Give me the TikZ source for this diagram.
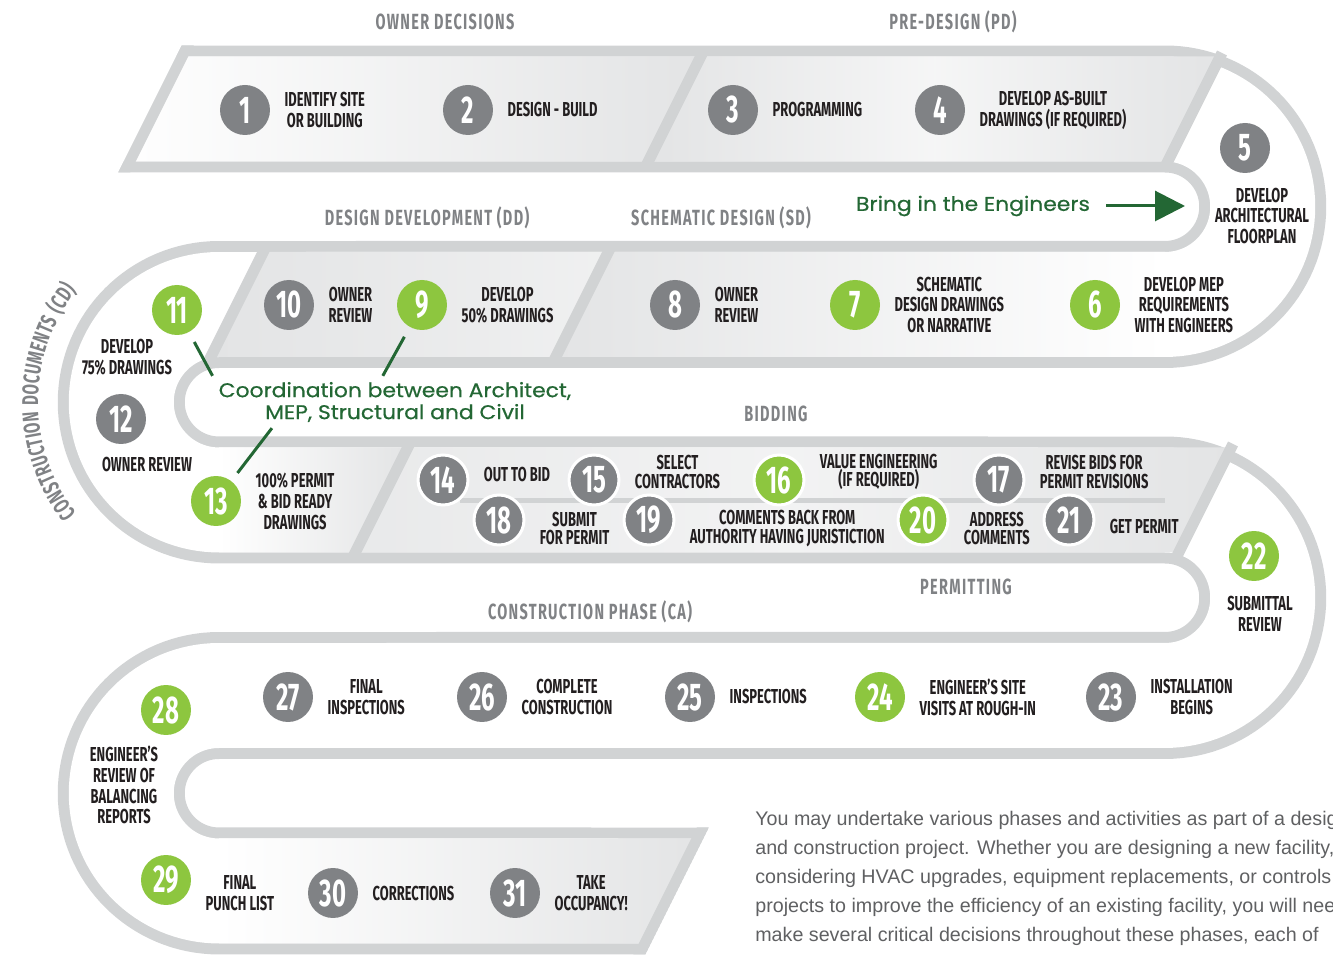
\documentclass[tikz,border=0pt]{standalone}
\usepackage{fontspec}
\setmainfont{Fira Sans}
\newfontfamily\stepfont[FakeStretch=0.64]{Fira Sans}
\newfontfamily\numfont[FakeStretch=0.62]{Fira Sans}
\newfontfamily\phasefont[FakeStretch=0.66,LetterSpace=6]{Fira Sans}
\newfontfamily\notefont[FakeStretch=1.1,FakeBold=0.6]{Poppins}
\newfontfamily\bodyfont{Liberation Sans}
\usetikzlibrary{positioning}
\usetikzlibrary{arrows.meta}
\usetikzlibrary{decorations.text}

\definecolor{trackgrey}{HTML}{D1D3D4}
\definecolor{fillgrey}{HTML}{E3E4E5}
\definecolor{stepgrey}{HTML}{808285}
\definecolor{stepgreen}{HTML}{8DC63F}
\definecolor{phasegrey}{HTML}{808285}
\definecolor{labelblack}{HTML}{231F20}
\definecolor{notegreen}{HTML}{236734}
\definecolor{bodygrey}{HTML}{5F6062}

\begin{document}
\begin{tikzpicture}[x=0.02cm, y=-0.02cm, node distance=0.28cm,
        greystep/.style={circle, fill=stepgrey, minimum size=1cm, inner sep=0, text=white,
            font=\numfont\bfseries\fontsize{22}{22}\selectfont},
        greenstep/.style={greystep, fill=stepgreen},
        ringed/.style={draw=white, line width=0.06cm},
        steptext/.style={align=center, inner sep=0, text=labelblack,
            font=\stepfont\bfseries\fontsize{11.5}{11.9}\selectfont},
        bidtext/.style={steptext, font=\stepfont\bfseries\fontsize{11.5}{10.4}\selectfont},
        phase/.style={text=phasegrey, inner sep=0, font=\phasefont\bfseries\fontsize{12.5}{13}\selectfont},
        note/.style={text=notegreen, align=center, font=\notefont\fontsize{11.3}{12.5}\selectfont},
        link/.style={notegreen, line width=0.06cm},
        divider/.style={trackgrey, line width=0.22cm}
        ]
    \useasboundingbox (0,0) rectangle (1333,955);

    % serpentine track, cut off slanted at both ends
    \begin{scope}
        \clip (0,0) -- (1333,0) -- (1333,820) -- (712.5,820) -- (639,967) -- (0,967)
            -- (0,180) -- (114.5,180) -- (187.5,34) -- (0,34) -- cycle;
        \draw[trackgrey, line width=0.22cm, double=white, double distance=2.1cm]
            (100,109) -- (1165,109) arc[start angle=90, end angle=-90, radius=1.955cm]
            -- (219,304.5) arc[start angle=90, end angle=270, radius=1.955cm]
            -- (1165,500) arc[start angle=90, end angle=-90, radius=1.955cm]
            -- (219,695.5) arc[start angle=90, end angle=270, radius=1.955cm]
            -- (730,891);
        % phase panels
        \shade[left color=white, right color=fillgrey] (113.75,161.5) -- (166.25,56.5) -- (700.75,56.5) -- (648.25,161.5) -- cycle;
        \shade[left color=fillgrey, right color=fillgrey, middle color=fillgrey!35!white] (648.25,161.5) -- (700.75,56.5) -- (1220.25,56.5) -- (1167.75,161.5) -- cycle;
        \shade[left color=fillgrey, right color=fillgrey!55!white] (210.75,357) -- (263.25,252) -- (608.25,252) -- (555.75,357) -- cycle;
        \shade[left color=fillgrey, right color=white] (555.75,357) -- (608.25,252) -- (1165,252) -- (1165,357) -- cycle;
        \shade[left color=white, right color=fillgrey] (219,552.5) -- (219,447.5) -- (407.75,447.5) -- (355.25,552.5) -- cycle;
        \shade[left color=fillgrey!80!white, right color=fillgrey, middle color=fillgrey!45!white] (355.25,552.5) -- (407.75,447.5) -- (1231.25,447.5) -- (1178.75,552.5) -- cycle;
        \shade[left color=white, right color=fillgrey] (219,943.5) -- (219,838.5) -- (703.25,838.5) -- (650.75,943.5) -- cycle;
        \foreach \xc/\yc in {674.5/109, 1194/109, 237/304.5, 582/304.5, 381.5/500, 1205/500}
            \draw[divider] (\xc+28,\yc-56) -- (\xc-28,\yc+56);
        \fill[trackgrey] (181.75,45.5) -- (193.75,45.5) -- (130.25,172.5) -- (118.25,172.5) -- cycle;
        \fill[trackgrey] (708.75,827.5) -- (696.75,827.5) -- (633.25,954.5) -- (645.25,954.5) -- cycle;
        \draw[trackgrey, line width=0.1cm] (460,501) -- (1165,501);
    \end{scope}

    % phase titles
    \node[phase] (od) at (445,22) {OWNER DECISIONS};
    \node[phase] (pd) at (953,22) {PRE-DESIGN (PD)};
    \node[phase] (dd) at (427,218) {DESIGN DEVELOPMENT (DD)};
    \node[phase] (sd) at (721,218) {SCHEMATIC DESIGN (SD)};
    \node[phase] (bid) at (776,414) {BIDDING};
    \node[phase] (perm) at (966,587) {PERMITTING};
    \node[phase] (ca) at (590,612) {CONSTRUCTION PHASE (CA)};
    \path[decorate, decoration={text along path, text align=fit to path,
            text={|\phasefont\bfseries\fontsize{13}{14}\selectfont\color{phasegrey}|CONSTRUCTION DOCUMENTS (CD)}}]
        (219,402.25) ++(218:3.62cm) arc[start angle=218, end angle=142, radius=3.62cm];

    % row 1
    \node[greystep] (s1) at (245,110) {1};
    \node[steptext, right=of s1] (t1) {IDENTIFY SITE\\OR BUILDING};
    \node[greystep] (s2) at (468,110) {2};
    \node[steptext, right=of s2] (t2) {DESIGN - BUILD};
    \node[greystep] (s3) at (733,110) {3};
    \node[steptext, right=of s3] (t3) {PROGRAMMING};
    \node[greystep] (s4) at (940,110) {4};
    \node[steptext, right=of s4] (t4) {DEVELOP AS-BUILT\\DRAWINGS (IF REQUIRED)};
    \node[greystep] (s5) at (1245,148) {5};
    \node[steptext] (t5) at (1262,216) {DEVELOP\\ARCHITECTURAL\\FLOORPLAN};

    % row 2
    \node[greenstep] (s6) at (1095,305) {6};
    \node[steptext, right=of s6] (t6) {DEVELOP MEP\\REQUIREMENTS\\WITH ENGINEERS};
    \node[greenstep] (s7) at (855,305) {7};
    \node[steptext, right=of s7] (t7) {SCHEMATIC\\DESIGN DRAWINGS\\OR NARRATIVE};
    \node[greystep] (s8) at (675,305) {8};
    \node[steptext, right=of s8] (t8) {OWNER\\REVIEW};
    \node[greenstep] (s9) at (422,305) {9};
    \node[steptext, right=of s9] (t9) {DEVELOP\\50\% DRAWINGS};
    \node[greystep] (s10) at (289,305) {10};
    \node[steptext, right=of s10] (t10) {OWNER\\REVIEW};
    \node[greenstep] (s11) at (177,310) {11};
    \node[steptext] (t11) at (127,357) {DEVELOP\\75\% DRAWINGS};

    % row 3
    \node[greystep] (s12) at (121,419) {12};
    \node[steptext] (t12) at (147,465) {OWNER REVIEW};
    \node[greenstep] (s13) at (216,501) {13};
    \node[steptext, right=of s13] (t13) {100\% PERMIT\\\& BID READY\\DRAWINGS};
    \node[greystep, ringed] (s14) at (443,480) {14};
    \node[steptext, right=of s14, yshift=0.1cm] (t14) {OUT TO BID};
    \node[greystep, ringed] (s15) at (594,480) {15};
    \node[bidtext, right=of s15, yshift=0.16cm] (t15) {SELECT\\CONTRACTORS};
    \node[greenstep, ringed] (s16) at (779,480) {16};
    \node[bidtext, right=of s16, yshift=0.16cm] (t16) {VALUE ENGINEERING\\(IF REQUIRED)};
    \node[greystep, ringed] (s17) at (999,480) {17};
    \node[bidtext, right=of s17, yshift=0.16cm] (t17) {REVISE BIDS FOR\\PERMIT REVISIONS};
    \node[greystep, ringed] (s18) at (499,520) {18};
    \node[bidtext, right=of s18, yshift=-0.17cm] (t18) {SUBMIT\\FOR PERMIT};
    \node[greystep, ringed] (s19) at (649,520) {19};
    \node[bidtext, right=of s19, yshift=-0.17cm] (t19) {COMMENTS BACK FROM\\AUTHORITY HAVING JURISTICTION};
    \node[greenstep, ringed] (s20) at (923,520) {20};
    \node[bidtext, right=of s20, yshift=-0.17cm] (t20) {ADDRESS\\COMMENTS};
    \node[greystep, ringed] (s21) at (1069,520) {21};
    \node[steptext, right=of s21, yshift=-0.14cm] (t21) {GET PERMIT};
    \node[greenstep] (s22) at (1254,556) {22};
    \node[steptext] (t22) at (1260,614) {SUBMITTAL\\REVIEW};

    % row 4
    \node[greystep] (s23) at (1111,697) {23};
    \node[steptext, right=of s23] (t23) {INSTALLATION\\BEGINS};
    \node[greenstep] (s24) at (880,697) {24};
    \node[steptext, right=of s24] (t24) {ENGINEER’S SITE\\VISITS AT ROUGH-IN};
    \node[greystep] (s25) at (690,697) {25};
    \node[steptext, right=of s25] (t25) {INSPECTIONS};
    \node[greystep] (s26) at (482,697) {26};
    \node[steptext, right=of s26] (t26) {COMPLETE\\CONSTRUCTION};
    \node[greystep] (s27) at (288,697) {27};
    \node[steptext, right=of s27] (t27) {FINAL\\INSPECTIONS};
    \node[greenstep] (s28) at (166,710) {28};
    \node[steptext] (t28) at (124,785) {ENGINEER’S\\REVIEW OF\\BALANCING\\REPORTS};

    % row 5
    \node[greenstep] (s29) at (166,880) {29};
    \node[steptext, right=of s29, yshift=-0.27cm] (t29) {FINAL\\PUNCH LIST};
    \node[greystep] (s30) at (333,893) {30};
    \node[steptext, right=of s30] (t30) {CORRECTIONS};
    \node[greystep] (s31) at (515,893) {31};
    \node[steptext, right=of s31] (t31) {TAKE\\OCCUPANCY!};

    % engineers notes
    \node[note] (eng) at (973,206) {Bring in the Engineers};
    \coordinate (engtip) at (1185,206);
    \draw[link, -{Triangle[length=0.6cm, width=0.6cm]}, shorten <=0.2cm] (eng.east) -- (engtip);
    \node[note] (coord) at (395,402) {Coordination between Architect,\\MEP, Structural and Civil};
    \draw[link, shorten <=0.22cm] (s11) -- (coord.north west);
    \draw[link, shorten <=0.22cm] (s9) -- (coord.115);
    \draw[link, shorten <=0.2cm] (s13) -- (coord.192);

    \node[anchor=north west, inner sep=0, align=left, text=bodygrey,
        font=\bodyfont\fontsize{11.2}{16.5}\selectfont] (blurb) at (755,811)
        {You may undertake various phases and activities as part of a design\\
        and construction project. Whether you are designing a new facility,\\
        considering HVAC upgrades, equipment replacements, or controls\\
        projects to improve the efficiency of an existing facility, you will need\\
        make several critical decisions throughout these phases, each of};
\end{tikzpicture}
\end{document}
